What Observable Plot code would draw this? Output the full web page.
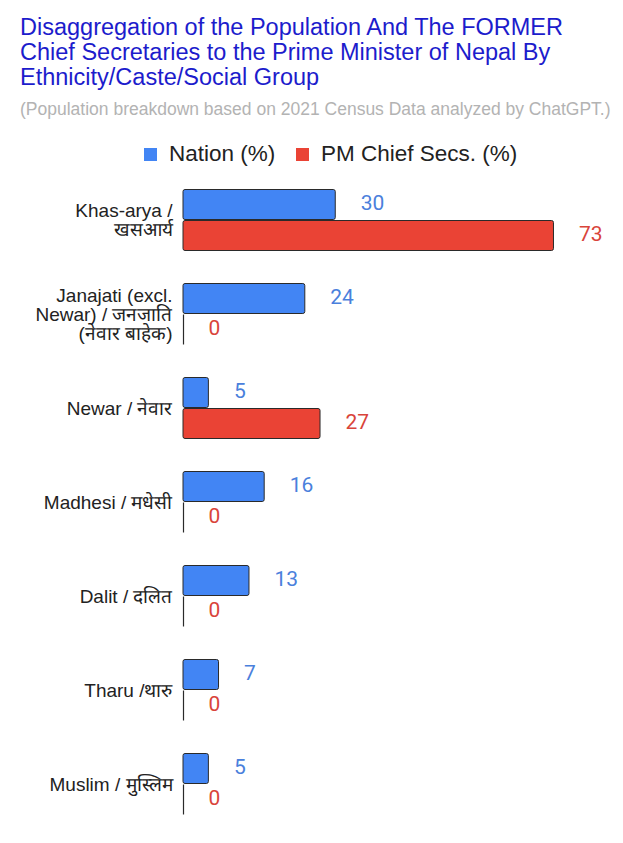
<!DOCTYPE html>
<html><head><meta charset="utf-8">
<script src="https://cdn.jsdelivr.net/npm/d3@7"></script>
<script src="https://cdn.jsdelivr.net/npm/@observablehq/plot@0.6"></script>
<style>
body{margin:0;background:#fff;font-family:"Liberation Sans",Arial,sans-serif;}
#title{position:absolute;left:20px;top:15px;width:600px;font-size:23.5px;line-height:25px;color:#1c1ccc;}
#sub{position:absolute;left:20px;top:99px;font-size:17.5px;color:#b3b3b3;white-space:nowrap;}
#legend{position:absolute;top:141px;left:0;width:623px;font-size:22.5px;color:#222;}
#legend span.sw{position:absolute;top:7px;width:13px;height:13px;}
#legend span.t{position:absolute;top:0;}
#chart{position:absolute;left:0;top:170px;}
</style></head>
<body>
<div id="title">Disaggregation of the Population And The FORMER Chief Secretaries to the Prime Minister of Nepal By Ethnicity/Caste/Social Group</div>
<div id="sub">(Population breakdown based on 2021 Census Data analyzed by ChatGPT.)</div>
<div id="legend">
<span class="sw" style="left:144px;background:#4285f4"></span><span class="t" style="left:169px">Nation (%)</span>
<span class="sw" style="left:296px;background:#ea4335"></span><span class="t" style="left:321px">PM Chief Secs. (%)</span>
</div>
<div id="chart"></div>
<script>
const categories = ["Khas-arya", "Janajati", "Newar", "Madhesi", "Dalit", "Tharu", "Muslim"];
const categoryLabels = [
  "Khas-arya /\nखसआर्य",
  "Janajati (excl.\nNewar) / जनजाति\n(नेवार बाहेक)",
  "Newar / नेवार",
  "Madhesi / मधेसी",
  "Dalit / दलित",
  "Tharu /थारु",
  "Muslim / मुस्लिम"
];
const seriesNames = ["Nation (%)", "PM Chief Secs. (%)"];
const nation = [30, 24, 5, 16, 13, 7, 5];
const pmChief = [73, 0, 27, 0, 0, 0, 0];
const seriesColors = ["#4285f4", "#ea4335"];
const labelColors = ["#4a80dc", "#d9443a"];

const data = [];
categories.forEach((c, i) => {
  data.push({cat: c, series: seriesNames[0], value: nation[i]});
  data.push({cat: c, series: seriesNames[1], value: pmChief[i]});
});
const labelOf = new Map(categories.map((c, i) => [c, categoryLabels[i]]));

const chart = Plot.plot({
  width: 623,
  height: 666,
  marginLeft: 183,
  marginRight: 34,
  marginTop: 18,
  marginBottom: 20,
  style: {fontFamily: "'Liberation Sans', Arial, sans-serif"},
  x: {domain: [0, 80], axis: null},
  y: {domain: seriesNames, padding: 0, axis: null},
  fy: {domain: categories, paddingInner: 0.343, paddingOuter: 0, axis: null},
  color: {domain: seriesNames, range: seriesColors},
  marks: [
    Plot.axisFy({anchor: "left", tickSize: 0, tickPadding: 11, fontSize: 19, lineHeight: 1.0, label: null, fill: "#222",
      tickFormat: d => labelOf.get(d)}),
    Plot.barX(data, {fy: "cat", y: "series", x: "value", fill: "series", stroke: "#2a2a2a", strokeWidth: 1, rx: 2, insetTop: 0.5, insetBottom: 0.5}),
    Plot.tickX(data.filter(d => d.value === 0), {fy: "cat", y: "series", x: "value", stroke: "#2a2a2a", strokeWidth: 1.2, insetTop: 0.5, insetBottom: 0.5}),
    Plot.text(data, {fy: "cat", y: "series", x: "value", text: d => String(d.value), dx: 25, dy: -2, textAnchor: "start", fontSize: 21,
      fontFamily: "Roboto, sans-serif",
      fill: d => labelColors[seriesNames.indexOf(d.series)]})
  ]
});
document.getElementById("chart").appendChild(chart);
</script>
</body></html>
